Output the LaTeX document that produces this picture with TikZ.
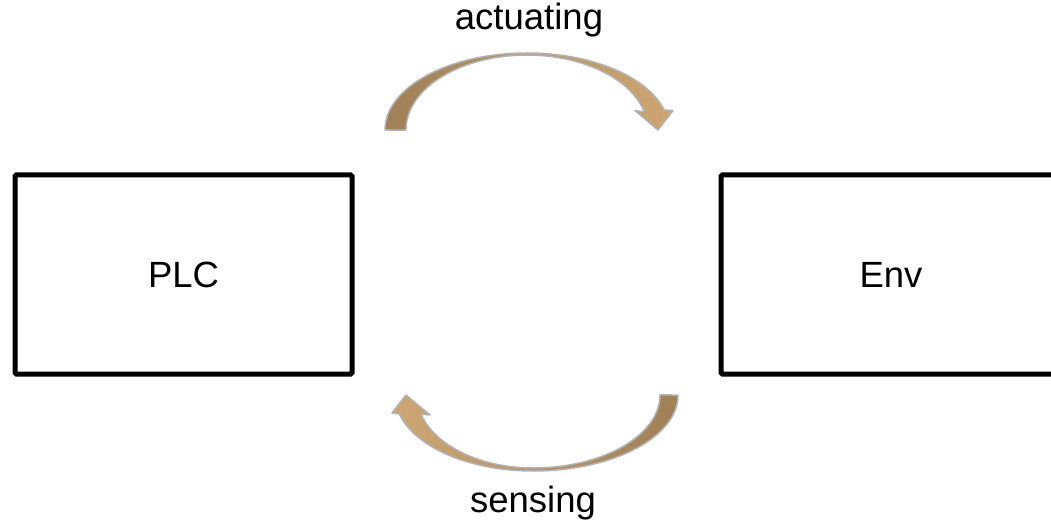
\documentclass[tikz,border=0pt]{standalone}
\usepackage{fontspec}
\setmainfont{Liberation Sans}
\definecolor{arrdark}{RGB}{160,128,88}
\definecolor{arrlight}{RGB}{206,166,116}
\definecolor{arredge}{RGB}{178,178,178}
\begin{document}
\begin{tikzpicture}[x=1pt,y=1pt,
  box/.style={draw=black,line width=5pt,rounded corners=1.5pt,minimum width=337pt,minimum height=199pt,inner sep=0pt,font=\fontsize{36.5}{44}\selectfont},
  lbl/.style={inner sep=0pt,anchor=base,font=\fontsize{36.5}{44}\selectfont},
  curvarrow/.style={draw=arredge,line width=1.5pt,line join=round}]
\useasboundingbox (0,0) rectangle (1051,525);
\node[box] (plc) at (183.5,250.5) {PLC};
\node[box,minimum width=340pt] (env) at (891,250.5) {Env};
\node[lbl] (act) at (529,495) {actuating};
\node[lbl] (sen) at (533,13) {sensing};
% actuating arrow (top)
\path[curvarrow,left color=arrdark,right color=arrlight]
  (385,395) arc[start angle=180,end angle=90,x radius=142,y radius=77]
  arc[start angle=90,end angle=15.05,x radius=142,y radius=77]
  -- (673,414.5) -- (658,395) -- (635,414.5) -- (644.4,413)
  arc[start angle=13.9,end angle=180,x radius=121,y radius=75] -- cycle;
% sensing arrow (bottom)
\path[curvarrow,left color=arrlight,right color=arrdark]
  (678,130) arc[start angle=360,end angle=270,x radius=145,y radius=76]
  arc[start angle=270,end angle=194.5,x radius=138,y radius=76]
  -- (392,112) -- (406,130) -- (430,110) -- (421,111)
  arc[start angle=195.09,end angle=270,x radius=116,y radius=73]
  arc[start angle=270,end angle=360,x radius=127,y radius=73] -- cycle;
\end{tikzpicture}
\end{document}
